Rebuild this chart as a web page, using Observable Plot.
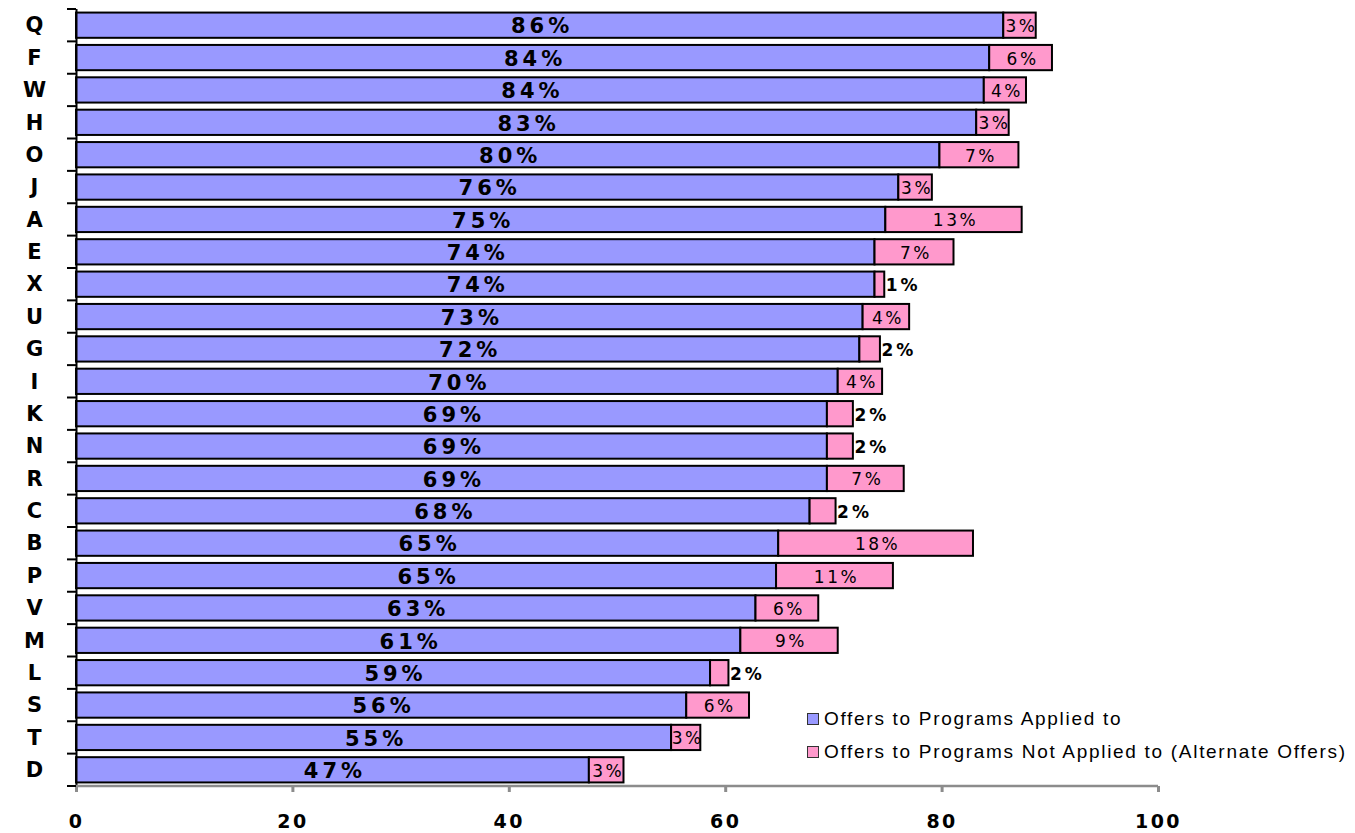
<!DOCTYPE html>
<html><head><meta charset="utf-8">
<script src="https://cdn.jsdelivr.net/npm/d3@7"></script>
<script src="https://cdn.jsdelivr.net/npm/@observablehq/plot@0.6"></script>
<style>
body{margin:0;background:#fff;font-family:"Liberation Sans",Arial,sans-serif;}
#wrap{position:relative;width:1355px;height:833px;}
.legend{position:absolute;left:807px;top:702px;font-size:19px;letter-spacing:1.7px;color:#000;}
.legend div{height:33px;line-height:33px;white-space:nowrap;}
.legend span.sw{display:inline-block;width:10px;height:10px;border:1px solid #333;margin-right:5px;vertical-align:0px;}
</style>
</head><body>
<div id="wrap"><div id="chart"></div>
<div class="legend" id="legend"></div></div>
<script>
const categories = ["Q","F","W","H","O","J","A","E","X","U","G","I","K","N","R","C","B","P","V","M","L","S","T","D"];
const applied = [85.7,84.4,83.9,83.2,79.8,76.0,74.8,73.8,73.8,72.7,72.4,70.4,69.4,69.4,69.4,67.8,64.9,64.7,62.8,61.4,58.6,56.4,55.0,47.4];
const alternate = [3.0,5.8,3.9,3.0,7.3,3.1,12.6,7.3,0.9,4.3,1.9,4.1,2.4,2.4,7.1,2.4,18.0,10.8,5.8,9.0,1.7,5.8,2.7,3.2];
const xTicks = [0,20,40,60,80,100];
const seriesNames = ["Offers to Programs Applied to","Offers to Programs Not Applied to (Alternate Offers)"];
const seriesColors = ["#9999FF","#FF99CC"];

const data = categories.map((c,i)=>({cat:c, a:applied[i], b:alternate[i]}));
const pct = v => Math.round(v) + "%";
const font = "DejaVu Sans, Verdana, sans-serif";

const plot = Plot.plot({
  width:1355, height:833,
  marginLeft:76, marginRight:197, marginTop:9, marginBottom:47,
  x:{domain:[0,100]},
  y:{domain:categories, paddingInner:0.22, paddingOuter:0.11, round:false},
  style:{fontFamily:font, background:"#fff", color:"#000"},
  marks:[
    Plot.barX(data,{y:"cat", x1:d=>0, x2:"a", fill:seriesColors[0], stroke:"#000", strokeWidth:2}),
    Plot.barX(data,{y:"cat", x1:"a", x2:d=>d.a+d.b, fill:seriesColors[1], stroke:"#000", strokeWidth:2}),
    Plot.text(data,{y:"cat", x:d=>d.a/2, text:d=>pct(d.a), fontSize:21, fontWeight:"bold", dy:1, dx:2, fill:"#000"}),
    Plot.text(data.filter(d=>d.b>=2.6),{y:"cat", x:d=>d.a+d.b/2, text:d=>pct(d.b), fontSize:17, dy:1, dx:1.5, fill:"#000"}),
    Plot.text(data.filter(d=>d.b<2.6),{y:"cat", x:d=>d.a+d.b, dx:1, textAnchor:"start", text:d=>pct(d.b), fontSize:17, fontWeight:"bold", dy:1, fill:"#000"}),
    Plot.ruleX([0],{stroke:"#000", strokeWidth:2}),
    Plot.axisY({label:null, tickSize:0, tickPadding:42, textAnchor:"middle", fontSize:21, fontWeight:"bold", fill:"#000"}),
    Plot.axisX({label:null, ticks:xTicks, tickSize:6, tickPadding:22, stroke:"#8c8c8c", strokeWidth:3, fill:"#000", fontSize:19, fontWeight:"bold"})
  ]
});
document.getElementById("chart").append(plot);

const svg = d3.select(plot);
// widen the label lettering like the original
const textGroups = svg.selectAll('g[aria-label="text"]').nodes();
const spacing = [4, 2.5, 3];
textGroups.forEach((g,i)=>d3.select(g).attr("letter-spacing", spacing[i] + "px"));
svg.selectAll('g[aria-label="x-axis tick label"]').attr("letter-spacing","2.5px");

// category boundary ticks and x-axis baseline, positioned with Plot's scales
const ys = plot.scale("y"), xs = plot.scale("x");
const step = ys.step, bw = ys.bandwidth;
const bounds = categories.map(c => ys.apply(c) - (step - bw)/2);
bounds.push(bounds[bounds.length-1] + step);
const x0 = xs.apply(0), x100 = xs.apply(100);
svg.append("line").attr("x1",x0).attr("x2",x100).attr("y1",bounds[bounds.length-1]).attr("y2",bounds[bounds.length-1])
  .attr("stroke","#8c8c8c").attr("stroke-width",2.5);
svg.append("g").selectAll("line").data(bounds).join("line")
  .attr("x1",x0-9).attr("x2",x0).attr("y1",d=>d).attr("y2",d=>d)
  .attr("stroke","#000").attr("stroke-width",2);

const lg = document.getElementById("legend");
seriesNames.forEach((n,i)=>{
  const row = document.createElement("div");
  const sw = document.createElement("span"); sw.className="sw"; sw.style.background=seriesColors[i];
  row.append(sw, document.createTextNode(n));
  lg.append(row);
});
</script>
</body></html>
